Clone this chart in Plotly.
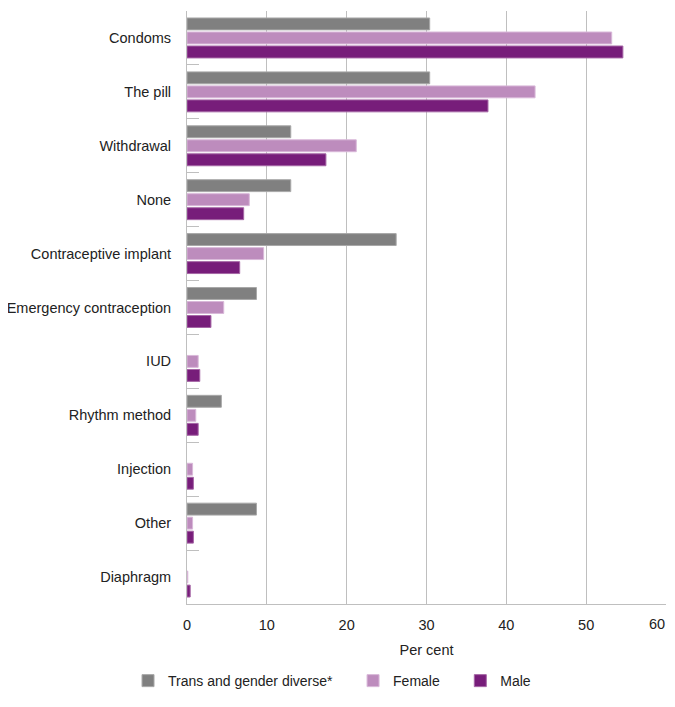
import plotly.graph_objects as go

categories = ["Condoms", "The pill", "Withdrawal", "None", "Contraceptive implant",
              "Emergency contraception", "IUD", "Rhythm method", "Injection", "Other", "Diaphragm"]
trans = [30.4, 30.4, 13.0, 13.0, 26.2, 8.7, None, 4.3, None, 8.7, None]
female = [53.2, 43.6, 21.2, 7.8, 9.6, 4.6, 1.4, 1.1, 0.7, 0.7, 0.1]
male = [54.6, 37.7, 17.4, 7.1, 6.6, 3.0, 1.6, 1.4, 0.8, 0.8, 0.4]
x_ticks = [0, 10, 20, 30, 40, 50, 60]
x_tick_labels = ["0", "10", "20", "30", "40", "50", "60"]

pad = "\u00a0" * 4
series = [
    ("Trans and gender diverse*" + pad, trans, "#808080", "#a8a8a8"),
    ("Female" + pad, female, "#bd8cbd", "#d9b8d9"),
    ("Male", male, "#771d7a", "#a566a5"),
]

fig = go.Figure()
for name, vals, col, lcol in series:
    fig.add_trace(go.Bar(
        y=categories, x=vals, name=name, orientation="h",
        marker=dict(color=col, line=dict(color=lcol, width=1)),
    ))

font = "Liberation Sans, Arial, sans-serif"
fs = 14.5
# last tick label sits at the window edge: draw it right-aligned to its tick so it stays visible
axis_labels = x_tick_labels[:-1] + [""]
fig.add_annotation(x=x_ticks[-1], xref="x", y=0, yref="paper", text=x_tick_labels[-1],
                   showarrow=False, xanchor="right", yanchor="middle", xshift=1, yshift=-20,
                   font=dict(size=fs, color="#222222"))

# page body has an 8px margin, so the figure is drawn 8px right and down
fig.update_layout(
    width=667, height=691,
    margin=dict(l=179, r=9, t=3, b=95, autoexpand=False),
    paper_bgcolor="white", plot_bgcolor="white",
    barmode="group", bargap=0.22, bargroupgap=0.15,
    font=dict(family=font, size=fs, color="#222222"),
    showlegend=True,
    legend=dict(orientation="h", xref="container", yref="container",
                x=0.4858, xanchor="center", y=0.026, yanchor="middle",
                font=dict(size=14, color="#222222")),
    xaxis=dict(range=[0, 60], tickmode="array", tickvals=x_ticks, ticktext=axis_labels,
               showgrid=True, gridcolor="#bfbfbf", gridwidth=1,
               showline=True, linecolor="#bfbfbf", linewidth=1, zeroline=False,
               ticks="", tickfont=dict(size=fs), automargin=False, ticklabeloverflow="allow",
               ticklabelstandoff=8,
               title=dict(text="Per cent", standoff=12, font=dict(size=fs))),
    yaxis=dict(autorange="reversed", showline=True, linecolor="#bfbfbf", linewidth=1,
               ticks="inside", ticklen=12, tickcolor="#bfbfbf", tickson="boundaries",
               showgrid=False, tickfont=dict(size=fs), ticklabelstandoff=12, automargin=False),
)

fig.write_html("out.html")
